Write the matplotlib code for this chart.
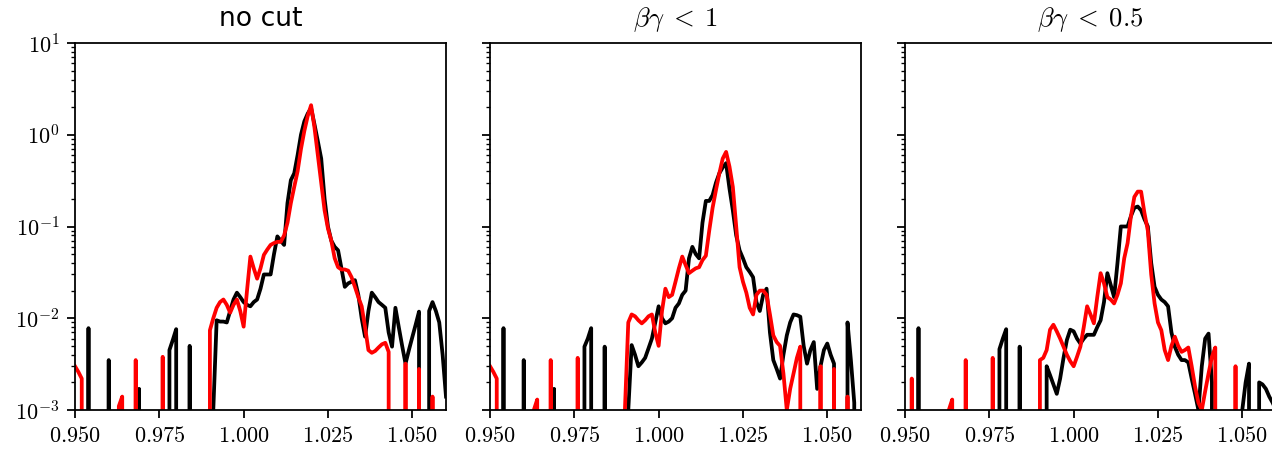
import numpy as np
import matplotlib.pyplot as plt
from matplotlib.ticker import FuncFormatter, NullFormatter, FixedLocator

plt.rcParams['mathtext.fontset'] = 'cm'

# histogram bins of width 0.001, starting at 0.950
nbins = 111
bin_x = 0.950 + 0.001 * np.arange(nbins)

titles = ['no cut', r'$\beta\gamma\;<\;1$', r'$\beta\gamma\;<\;0.5$']

# non-empty bins {bin index: normalised count}
nocut_black = {
    4: 0.0078, 10: 0.0035, 19: 0.0017, 28: 0.0045, 29: 0.0058, 30: 0.0076, 34: 0.005,
    41: 0.001, 42: 0.0095, 43: 0.0092, 44: 0.0092, 45: 0.009, 46: 0.012, 47: 0.016, 48: 0.019, 49: 0.017,
    50: 0.015, 51: 0.014, 52: 0.0135, 53: 0.015, 54: 0.016, 55: 0.021, 56: 0.03, 57: 0.03, 58: 0.03, 59: 0.05,
    60: 0.078, 61: 0.07, 62: 0.063, 63: 0.18, 64: 0.32, 65: 0.38, 66: 0.6, 67: 1.0, 68: 1.4, 69: 1.7,
    70: 1.95, 71: 1.3, 72: 0.85, 73: 0.55, 74: 0.2, 75: 0.1, 76: 0.07, 77: 0.06, 78: 0.055, 79: 0.035,
    80: 0.022, 81: 0.024, 82: 0.025, 83: 0.026, 84: 0.018, 85: 0.01, 86: 0.0063, 87: 0.012, 88: 0.019, 89: 0.017,
    90: 0.015, 91: 0.014, 92: 0.013, 93: 0.007, 94: 0.0049, 95: 0.013, 96: 0.008, 97: 0.005, 98: 0.0032, 99: 0.0045,
    100: 0.0062, 101: 0.0085, 102: 0.0118, 105: 0.012, 106: 0.015, 107: 0.012, 108: 0.009, 109: 0.004, 110: 0.0014,
}
nocut_red = {
    0: 0.003, 1: 0.0026, 2: 0.0022, 13: 0.0011, 14: 0.0014, 18: 0.0035, 26: 0.0038,
    40: 0.0074, 41: 0.01, 42: 0.013, 43: 0.015, 44: 0.016, 45: 0.014, 46: 0.0115, 47: 0.014, 48: 0.016, 49: 0.012,
    50: 0.0081, 51: 0.02, 52: 0.047, 53: 0.035, 54: 0.027, 55: 0.035, 56: 0.049, 57: 0.056, 58: 0.063, 59: 0.066,
    60: 0.068, 61: 0.068, 62: 0.08, 63: 0.11, 64: 0.18, 65: 0.27, 66: 0.4, 67: 0.7, 68: 1.1, 69: 1.6,
    70: 2.1, 71: 1.2, 72: 0.6, 73: 0.3, 74: 0.15, 75: 0.095, 76: 0.07, 77: 0.045, 78: 0.036, 79: 0.034,
    80: 0.034, 81: 0.033, 82: 0.028, 83: 0.022, 84: 0.017, 85: 0.0135, 86: 0.008, 87: 0.0045, 88: 0.0042, 89: 0.0044,
    90: 0.0048, 91: 0.0052, 92: 0.0054, 93: 0.0043, 98: 0.0032, 102: 0.0028, 106: 0.0014,
}
bg1_black = {
    4: 0.0078, 10: 0.0035, 19: 0.0017, 28: 0.0049, 29: 0.006, 30: 0.0078, 34: 0.0049,
    41: 0.001, 42: 0.0051, 43: 0.004, 44: 0.003, 45: 0.0033, 46: 0.0037, 47: 0.0047, 48: 0.006, 49: 0.009,
    50: 0.0135, 51: 0.01, 52: 0.0088, 53: 0.0092, 54: 0.01, 55: 0.013, 56: 0.0145, 57: 0.018, 58: 0.02, 59: 0.045,
    60: 0.06, 61: 0.05, 62: 0.045, 63: 0.11, 64: 0.19, 65: 0.19, 66: 0.22, 67: 0.3, 68: 0.38, 69: 0.44,
    70: 0.49, 71: 0.26, 72: 0.15, 73: 0.08, 74: 0.055, 75: 0.045, 76: 0.036, 77: 0.032, 78: 0.028, 79: 0.015,
    80: 0.012, 81: 0.018, 82: 0.021, 83: 0.007, 84: 0.0035, 85: 0.0028, 86: 0.0022, 87: 0.004, 88: 0.0065, 89: 0.009,
    90: 0.011, 91: 0.0108, 92: 0.0104, 93: 0.005, 94: 0.0032, 95: 0.0045, 96: 0.0055, 97: 0.0017, 98: 0.003, 99: 0.0045,
    100: 0.0053, 101: 0.004, 102: 0.0032, 106: 0.009, 107: 0.0035, 108: 0.0012,
}
bg1_red = {
    0: 0.003, 1: 0.0026, 2: 0.0022, 13: 0.001, 14: 0.0013, 18: 0.0035, 26: 0.0037,
    40: 0.001, 41: 0.009, 42: 0.011, 43: 0.0105, 44: 0.0095, 45: 0.0088, 46: 0.0095, 47: 0.0105, 48: 0.011, 49: 0.007,
    50: 0.005, 51: 0.012, 52: 0.021, 53: 0.017, 54: 0.018, 55: 0.025, 56: 0.035, 57: 0.047, 58: 0.038, 59: 0.031,
    60: 0.033, 61: 0.035, 62: 0.036, 63: 0.043, 64: 0.048, 65: 0.09, 66: 0.16, 67: 0.25, 68: 0.38, 69: 0.55,
    70: 0.65, 71: 0.45, 72: 0.27, 73: 0.1, 74: 0.036, 75: 0.025, 76: 0.019, 77: 0.013, 78: 0.011, 79: 0.018,
    80: 0.02, 81: 0.02, 82: 0.018, 83: 0.011, 84: 0.0065, 85: 0.0055, 86: 0.005, 87: 0.0025, 88: 0.001, 89: 0.0017,
    90: 0.0025, 91: 0.0037, 92: 0.0049, 98: 0.003, 102: 0.0028, 106: 0.0014,
}
bg05_black = {
    4: 0.0078, 28: 0.0046, 29: 0.006, 30: 0.0076, 34: 0.0049,
    42: 0.003, 43: 0.0024, 44: 0.0019, 45: 0.0015, 46: 0.0022, 47: 0.0037, 48: 0.0058, 49: 0.0075,
    50: 0.0072, 51: 0.006, 52: 0.0053, 53: 0.006, 54: 0.0066, 55: 0.0066, 56: 0.0066, 57: 0.008, 58: 0.0095, 59: 0.015,
    60: 0.031, 61: 0.023, 62: 0.017, 63: 0.04, 64: 0.1, 65: 0.1, 66: 0.1, 67: 0.13, 68: 0.16, 69: 0.165,
    70: 0.15, 71: 0.12, 72: 0.1, 73: 0.04, 74: 0.022, 75: 0.018, 76: 0.016, 77: 0.015, 78: 0.0135, 79: 0.007,
    80: 0.0049, 81: 0.004, 82: 0.0035, 83: 0.0035, 84: 0.0033, 85: 0.0022, 86: 0.0015, 87: 0.001, 88: 0.003, 89: 0.006,
    90: 0.0068, 91: 0.002, 100: 0.001, 101: 0.002, 102: 0.0032, 105: 0.002, 106: 0.0019, 107: 0.0017, 108: 0.0014,
    109: 0.0012, 110: 0.001,
}
bg05_red = {
    2: 0.0022, 13: 0.001, 14: 0.0013, 18: 0.0035, 26: 0.0037,
    40: 0.0035, 41: 0.0037, 42: 0.0045, 43: 0.0075, 44: 0.0085, 45: 0.0072, 46: 0.006, 47: 0.0049, 48: 0.004, 49: 0.0034,
    50: 0.003, 51: 0.0038, 52: 0.0049, 53: 0.008, 54: 0.0135, 55: 0.011, 56: 0.0088, 57: 0.017, 58: 0.031, 59: 0.024,
    60: 0.017, 61: 0.016, 62: 0.0145, 63: 0.018, 64: 0.024, 65: 0.045, 66: 0.066, 67: 0.13, 68: 0.21, 69: 0.24,
    70: 0.24, 71: 0.14, 72: 0.09, 73: 0.03, 74: 0.0145, 75: 0.009, 76: 0.0074, 77: 0.0045, 78: 0.0035, 79: 0.005,
    80: 0.0063, 81: 0.005, 82: 0.0043, 83: 0.0045, 84: 0.0048, 85: 0.003, 86: 0.0018, 87: 0.0012, 88: 0.001, 89: 0.0016,
    90: 0.0025, 91: 0.0038, 92: 0.0048, 98: 0.003,
}

panels = [(nocut_black, nocut_red), (bg1_black, bg1_red), (bg05_black, bg05_red)]


def fill(counts):
    h = np.zeros(nbins)
    for i, v in counts.items():
        h[i] = v
    return h


W, H = 1272, 449
fig = plt.figure(figsize=(W / 160, H / 160), dpi=160)

axes = []
for left in [75, 490, 905]:
    ax = fig.add_axes([left / W, 39 / H, 371 / W, 367 / H],
                      sharey=axes[0] if axes else None)
    axes.append(ax)

for ax, (blk, red), title in zip(axes, panels, titles):
    ax.plot(bin_x, fill(blk), color='k', lw=1.7)
    ax.plot(bin_x, fill(red), color='r', lw=1.7)
    ax.set_yscale('log')
    ax.set_xlim(0.95, 1.06)
    ax.set_title(title, pad=7.5)
    ax.xaxis.set_major_locator(FixedLocator([0.950, 0.975, 1.000, 1.025, 1.050]))
    ax.xaxis.set_major_formatter(FuncFormatter(lambda v, p: r'$%.3f$' % v))

axes[0].set_ylim(1e-3, 1e1)
axes[0].yaxis.set_major_formatter(FuncFormatter(lambda v, p: r'$10^{%d}$' % round(np.log10(v))))
axes[0].yaxis.set_minor_formatter(NullFormatter())
for ax in axes[1:]:
    ax.tick_params(axis='y', which='both', labelleft=False)

fig.savefig('out.png', dpi=160)
